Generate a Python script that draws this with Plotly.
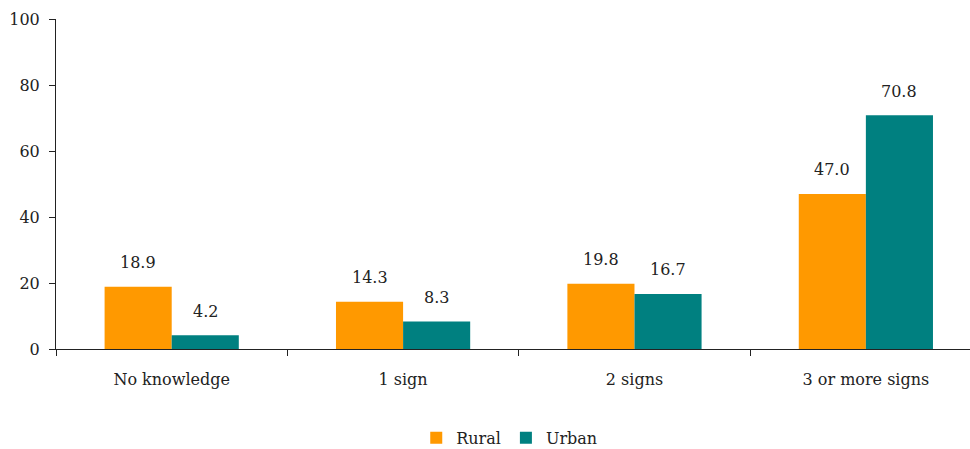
import plotly.graph_objects as go

categories = ["No knowledge", "1 sign", "2 signs", "3 or more signs"]
rural = [18.9, 14.3, 19.8, 47.0]
urban = [4.2, 8.3, 16.7, 70.8]
y_ticks = [0, 20, 40, 60, 80, 100]

ORANGE = "#FF9900"
TEAL = "#008080"
FONT = "DejaVu Serif"

fig = go.Figure()
fig.add_trace(go.Bar(name="Rural", x=categories, y=rural, marker_color=ORANGE, marker_line_width=0))
fig.add_trace(go.Bar(name="Urban", x=categories, y=urban, marker_color=TEAL, marker_line_width=0))

bargap = 0.42
half = (1 - bargap) / 4  # centre offset of each bar within a group
for series, off in ((rural, -half), (urban, half)):
    for i, v in enumerate(series):
        fig.add_annotation(x=i + off, y=v, xref="x", yref="y", text=f"{v:.1f}",
                           showarrow=False, yshift=24,
                           font=dict(family=FONT, size=16, color="#222"))

fig.update_layout(
    width=970, height=449,
    margin=dict(l=56, r=0, t=19, b=100, autoexpand=False),
    paper_bgcolor="white", plot_bgcolor="white",
    barmode="group", bargap=bargap, bargroupgap=0,
    font=dict(family=FONT, size=16, color="#222"),
    showlegend=True,
    legend=dict(orientation="h", x=0.525, xanchor="center", xref="container",
                y=0.025, yanchor="middle", yref="container",
                font=dict(family=FONT, size=16), itemwidth=30, tracegroupgap=0,
                itemsizing="constant"),
    xaxis=dict(range=[-0.5, 3.45], showline=True, linecolor="#222", linewidth=1,
               ticks="outside", tickson="boundaries", ticklen=6, tickcolor="#222",
               ticklabelstandoff=16, automargin=False,
               showgrid=False, zeroline=False),
    yaxis=dict(range=[0, 100], tickvals=y_ticks, showline=True, linecolor="#222",
               linewidth=1, ticks="outside", ticklen=6, tickcolor="#222",
               ticklabelstandoff=6, automargin=False,
               showgrid=False, zeroline=False),
)

fig.write_html("out.html")
